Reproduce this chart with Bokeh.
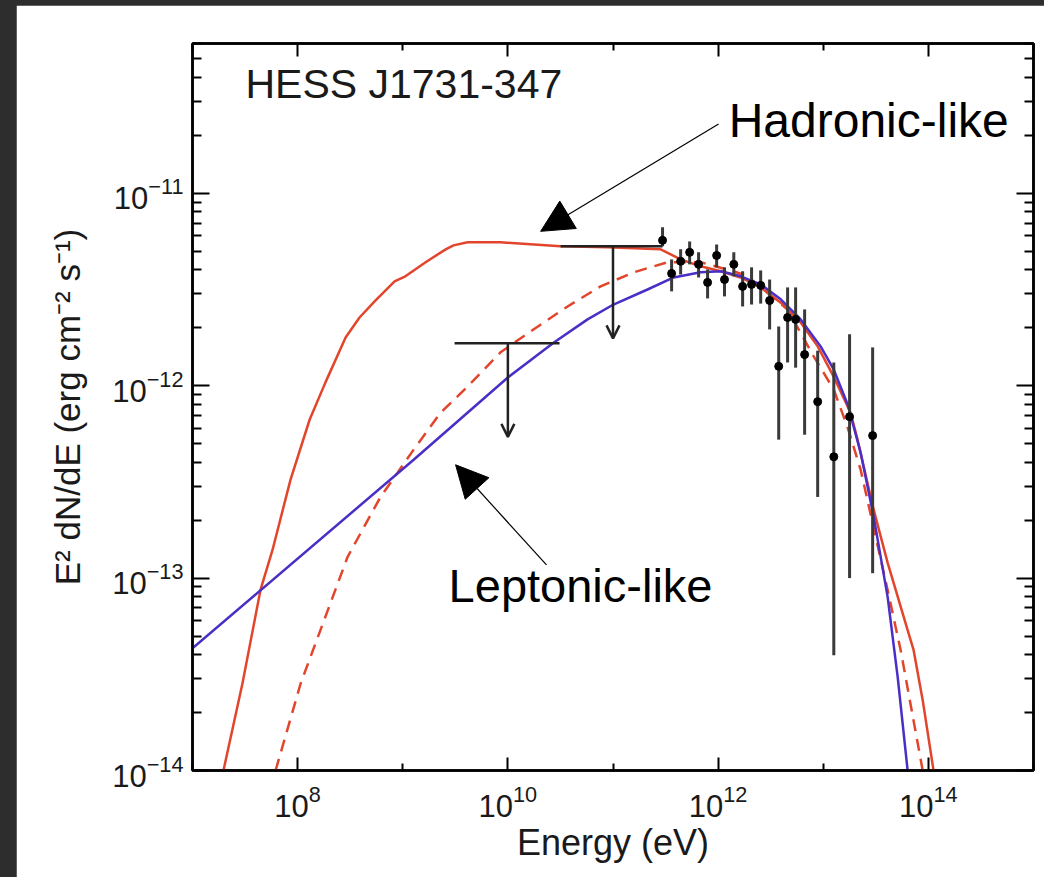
from bokeh.plotting import figure
from bokeh.models import (LogAxis, FixedTicker, LogTickFormatter, CustomJSTickFormatter,
                          Arrow, NormalHead, OpenHead, Label, ColumnDataSource, Range1d)
from bokeh.embed import file_html
from bokeh.resources import INLINE

# ---------------- data ----------------
# Hadronic-like model (solid red)
had_E = [1.97e7, 2.99e7, 4.44e7, 5.77e7, 8.55e7, 1.30e8, 1.84e8, 2.86e8, 3.88e8, 5.40e8,
         8.36e8, 1.06e9, 1.65e9, 2.56e9, 3.04e9, 4.14e9, 8.51e9, 3.16e10, 8.89e10, 2.84e11,
         4.40e11, 6.81e11, 1.06e12, 1.64e12, 2.54e12, 3.94e12, 6.10e12, 8.85e12, 1.26e13,
         1.82e13, 2.12e13, 3.02e13, 4.10e13, 6.35e13, 7.24e13, 8.83e13, 1.12e14]
had_F = [1.0e-14, 2.84e-14, 8.71e-14, 1.40e-13, 3.24e-13, 6.65e-13, 1.04e-12, 1.78e-12, 2.26e-12, 2.74e-12,
         3.48e-12, 3.70e-12, 4.38e-12, 5.11e-12, 5.36e-12, 5.56e-12, 5.56e-12, 5.30e-12, 5.24e-12, 5.11e-12,
         4.53e-12, 4.17e-12, 3.93e-12, 3.65e-12, 3.24e-12, 2.70e-12, 2.13e-12, 1.60e-12, 1.11e-12,
         7.23e-13, 5.24e-13, 2.26e-13, 1.20e-13, 5.36e-14, 4.22e-14, 2.32e-14, 1.0e-14]

# Hadronic-like variant (dashed red)
hadd_E = [6.17e7, 1.07e8, 2.99e8, 6.15e8, 1.27e9, 2.29e9, 4.14e9, 8.51e9, 1.75e10, 3.70e10,
          7.62e10, 1.57e11, 3.30e11, 6.81e11, 1.40e12, 1.91e12, 4.58e12, 8.11e12, 1.26e13,
          1.71e13, 2.27e13, 3.02e13, 4.10e13, 5.45e13, 8.83e13]
hadd_F = [1.0e-14, 2.84e-14, 1.29e-13, 2.64e-13, 4.65e-13, 7.23e-13, 9.89e-13, 1.49e-12, 1.96e-12, 2.58e-12,
          3.28e-12, 3.88e-12, 4.38e-12, 4.38e-12, 3.93e-12, 3.70e-12, 2.49e-12, 1.42e-12, 9.53e-13,
          6.04e-13, 3.65e-13, 1.82e-13, 8.65e-14, 4.22e-14, 1.0e-14]

# Leptonic-like model (blue)
lep_E = [1.0e7, 1.27e9, 9.93e9, 2.72e10, 5.73e10, 1.01e11, 2.13e11, 3.78e11, 6.81e11, 1.06e12,
         1.64e12, 2.54e12, 3.94e12, 6.10e12, 9.44e12, 1.26e13, 1.71e13, 2.27e13, 3.02e13,
         4.10e13, 5.11e13, 6.35e13]
lep_F = [4.32e-14, 4.12e-13, 1.10e-12, 1.67e-12, 2.21e-12, 2.64e-12, 3.16e-12, 3.65e-12, 3.88e-12, 3.93e-12,
         3.70e-12, 3.36e-12, 2.81e-12, 2.21e-12, 1.60e-12, 1.21e-12, 7.96e-13, 4.48e-13, 2.08e-13,
         7.96e-14, 3.05e-14, 1.0e-14]

# H.E.S.S. spectral points
pt_E = [2.96e11, 3.61e11, 4.40e11, 5.36e11, 6.52e11, 7.94e11, 9.68e11, 1.15e12, 1.41e12, 1.71e12,
        2.08e12, 2.54e12, 3.09e12, 3.77e12, 4.58e12, 5.46e12, 6.65e12, 8.85e12, 1.26e13, 1.78e13, 2.95e13]
pt_F = [5.69e-12, 3.83e-12, 4.43e-12, 4.93e-12, 4.27e-12, 3.44e-12, 4.75e-12, 3.56e-12, 4.27e-12, 3.28e-12,
        3.36e-12, 3.32e-12, 2.77e-12, 1.26e-12, 2.26e-12, 2.21e-12, 1.45e-12, 8.26e-13, 4.27e-13, 6.90e-13, 5.50e-13]
pt_hi = [6.65e-12, 4.53e-12, 5.11e-12, 5.62e-12, 4.93e-12, 4.02e-12, 5.42e-12, 4.12e-12, 4.93e-12, 3.93e-12,
         4.12e-12, 3.97e-12, 3.56e-12, 2.03e-12, 3.24e-12, 3.24e-12, 2.49e-12, 1.52e-12, 1.32e-12, 1.85e-12, 1.58e-12]
pt_lo = [5.30e-12, 3.09e-12, 3.78e-12, 4.27e-12, 3.65e-12, 2.84e-12, 4.12e-12, 2.91e-12, 3.70e-12, 2.58e-12,
         2.64e-12, 2.67e-12, 1.96e-12, 5.24e-13, 1.32e-12, 1.24e-12, 5.56e-13, 2.64e-13, 3.97e-14, 1.0e-13, 1.06e-13]

# Fermi-LAT upper limits
ul_E = [1.0e10, 1.0e11]
ul_Emin = [3.11e9, 3.17e10]
ul_Emax = [3.10e10, 2.96e11]
ul_F = [1.66e-12, 5.30e-12]
ul_tip = [5.42e-13, 1.76e-12]

x_major = [1e8, 1e10, 1e12, 1e14]
x_minor = [1e7, 1e9, 1e11, 1e13, 1e15]
y_major = [1e-14, 1e-13, 1e-12, 1e-11]
y_minor = [m * d for d in (1e-14, 1e-13, 1e-12, 1e-11) for m in range(2, 10)]

FONT = "Liberation Sans"
RED = "#e2452c"
BLUE = "#4a2ec6"

# ---------------- figure ----------------
p = figure(width=1028, height=872, x_axis_type="log", y_axis_type="log",
           x_range=Range1d(1e7, 1e15), y_range=Range1d(1e-14, 6e-11),
           output_backend="svg", toolbar_location=None,
           min_border_left=176, min_border_right=11, min_border_top=38, min_border_bottom=107,
           background_fill_color="white", border_fill_color="white")
p.grid.visible = False
p.outline_line_color = "black"
p.outline_line_width = 2.5

xt = FixedTicker(ticks=x_major, minor_ticks=x_minor)
yt = FixedTicker(ticks=y_major, minor_ticks=y_minor)

blank = CustomJSTickFormatter(code="return ''")

top = LogAxis()
right = LogAxis()
p.add_layout(top, "above")
p.add_layout(right, "right")

for ax in p.xaxis:
    ax.ticker = xt
    ax.major_tick_in = 13
    ax.minor_tick_in = 7
    ax.major_tick_out = 0
    ax.minor_tick_out = 0
    ax.axis_line_width = 2.5
    ax.major_tick_line_width = 2
    ax.minor_tick_line_width = 2
for ax in p.yaxis:
    ax.ticker = yt
    ax.major_tick_in = 17
    ax.minor_tick_in = 9
    ax.major_tick_out = 0
    ax.minor_tick_out = 0
    ax.axis_line_width = 2.5
    ax.major_tick_line_width = 2
    ax.minor_tick_line_width = 2

top.formatter = blank
right.formatter = blank

bx = p.below[0]
bx.formatter = LogTickFormatter()
bx.major_label_text_font = FONT
bx.major_label_text_font_size = "31px"
bx.major_label_text_color = "#1a1a1a"
bx.major_label_standoff = 14
bx.axis_label = "Energy (eV)"
bx.axis_label_text_font = FONT
bx.axis_label_text_font_size = "36px"
bx.axis_label_text_font_style = "normal"
bx.axis_label_text_color = "#1a1a1a"
bx.axis_label_standoff = 2

ly = p.left[0]
ly.formatter = LogTickFormatter()
ly.major_label_text_font = FONT
ly.major_label_text_font_size = "31px"
ly.major_label_text_color = "#1a1a1a"
ly.major_label_standoff = 9
ly.axis_label = "E² dN/dE (erg cm⁻² s⁻¹)"
ly.axis_label_text_font = FONT
ly.axis_label_text_font_size = "35px"
ly.axis_label_text_font_style = "normal"
ly.axis_label_text_color = "#1a1a1a"
ly.axis_label_standoff = 22

# ---------------- glyphs ----------------
p.line(had_E, had_F, line_color=RED, line_width=2.5)
p.line(hadd_E, hadd_F, line_color=RED, line_width=2.5, line_dash="12 8")
p.line(lep_E, lep_F, line_color=BLUE, line_width=2.5)

p.segment(pt_E, pt_lo, pt_E, pt_hi, line_color="#3a3a3a", line_width=3)
p.scatter(pt_E, pt_F, size=8, color="black")

p.segment(ul_Emin, ul_F, ul_Emax, ul_F, line_color="#222222", line_width=2.5)
ul_src = ColumnDataSource(dict(x=ul_E, y0=ul_F, y1=ul_tip))
p.add_layout(Arrow(end=OpenHead(size=13, line_width=2.5, line_color="#222222"),
                   x_start="x", y_start="y0", x_end="x", y_end="y1",
                   line_width=2.5, line_color="#222222", source=ul_src))

# annotations
p.add_layout(Arrow(end=NormalHead(size=32, fill_color="black", line_color="black"),
                   x_start=1.01e12, y_start=2.29e-11, x_end=2.05e10, y_end=6.34e-12,
                   line_width=1.2, line_color="black"))
p.add_layout(Arrow(end=NormalHead(size=32, fill_color="black", line_color="black"),
                   x_start=2.33e10, y_start=1.17e-13, x_end=3.18e9, y_end=3.88e-13,
                   line_width=1.2, line_color="black"))

p.add_layout(Label(x=3.19e7, y=3.69e-11, text="HESS J1731-347", text_font=FONT,
                   text_font_size="41px", text_color="#1a1a1a", text_baseline="alphabetic"))
p.add_layout(Label(x=1.26e12, y=2.40e-11, text="Hadronic-like", text_font=FONT,
                   text_font_size="48px", text_color="black", text_baseline="alphabetic"))
p.add_layout(Label(x=2.73e9, y=9.19e-14, text="Leptonic-like", text_font=FONT,
                   text_font_size="47px", text_color="black", text_baseline="alphabetic"))

html = file_html(p, INLINE)
i = html.rfind("<body")
j = html.find(">", i)
if i >= 0 and j > i:
    html = (html[:i]
            + '<body style="margin:5px 0 0 16px; background-color:#2d2d2d; overflow:hidden;">'
            + html[j + 1:])
open("out.html", "w").write(html)
